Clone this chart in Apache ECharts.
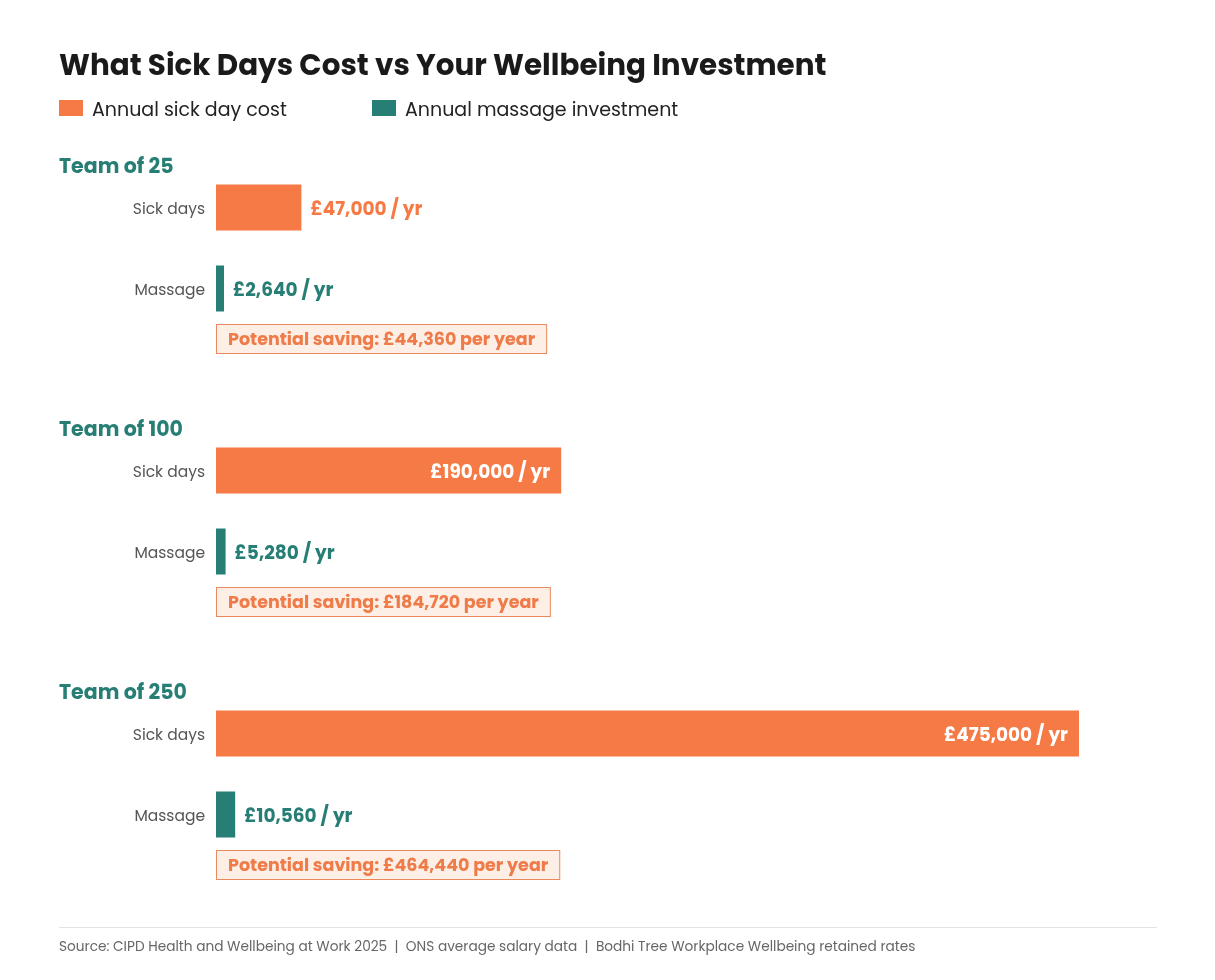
<!DOCTYPE html>
<html><head><meta charset="utf-8">
<script src="https://cdn.jsdelivr.net/npm/echarts@6/dist/echarts.min.js"></script>
<style>html,body{margin:0;padding:0;background:#fff}#c{width:1215px;height:980px}</style>
</head><body><div id="c"></div>
<script>
const teams = ['Team of 25', 'Team of 100', 'Team of 250'];
const rowLabels = ['Sick days', 'Massage'];
const sickCost = [47000, 190000, 475000];
const massageCost = [2640, 5280, 10560];
const seriesNames = ['Annual sick day cost', 'Annual massage investment'];
const sourceText = 'Source: CIPD Health and Wellbeing at Work 2025  |  ONS average salary data  |  Bodhi Tree Workplace Wellbeing retained rates';

const FONT = 'Poppins, "Open Sans", sans-serif';
const ORANGE = '#F67A45';
const TEAL = '#277E75';
const fmt = v => '£' + v.toLocaleString('en-GB');

const chart = echarts.init(document.getElementById('c'));
const grids = [], xAxes = [], yAxes = [], series = [], graphics = [];
const panelStep = 263;
teams.forEach((t, i) => {
  const top = 167 + i * panelStep;
  grids.push({left: 216, width: 863, top: top, height: 162, containLabel: false});
  xAxes.push({type: 'value', gridIndex: i, min: 0, max: 475000, show: false});
  yAxes.push({type: 'category', gridIndex: i, data: rowLabels, inverse: true,
    axisLine: {show: false}, axisTick: {show: false}, splitLine: {show: false},
    axisLabel: {margin: 11, formatter: v => '{a|' + v + '}',
      rich: {a: {color: '#555', fontFamily: FONT, fontSize: 15.5, padding: [5, 0, 0, 0]}}}});
  const inside = sickCost[i] > 100000;
  series.push({type: 'bar', name: seriesNames[0], xAxisIndex: i, yAxisIndex: i,
    data: [sickCost[i], '-'], barWidth: 46, barGap: '-100%',
    itemStyle: {color: ORANGE},
    label: {show: true, position: inside ? 'insideRight' : 'right', distance: inside ? 11 : 9,
      offset: [0, 3],
      formatter: p => fmt(p.value) + ' / yr', color: inside ? '#fff' : ORANGE,
      fontFamily: FONT, fontWeight: 'bold', fontSize: 18.5}});
  series.push({type: 'bar', name: seriesNames[1], xAxisIndex: i, yAxisIndex: i,
    data: ['-', massageCost[i]], barWidth: 46, barGap: '-100%', barMinHeight: 8,
    itemStyle: {color: TEAL},
    label: {show: true, position: 'right', distance: 9, offset: [0, 3],
      formatter: p => fmt(p.value) + ' / yr', color: TEAL,
      fontFamily: FONT, fontWeight: 'bold', fontSize: 18.5}});
  graphics.push({type: 'text', left: 59, top: 166 + i * panelStep - 9,
    style: {text: t, fill: TEAL, font: 'bold 20.5px ' + FONT}});
  graphics.push({type: 'text', left: 216, top: 324 + i * panelStep,
    style: {text: 'Potential saving: ' + fmt(sickCost[i] - massageCost[i]) + ' per year',
      fill: '#EE7B48', font: 'bold 17.5px ' + FONT,
      backgroundColor: '#FDEEE6', borderColor: '#E98A5E', borderWidth: 1,
      padding: [7, 11, 3, 11]}});
});
graphics.push({type: 'line', shape: {x1: 59, y1: 927.5, x2: 1157, y2: 927.5},
  style: {stroke: '#E3E3E3', lineWidth: 1}});
graphics.push({type: 'text', left: 59, top: 941,
  style: {text: sourceText, fill: '#666', font: '13.7px ' + FONT}});

const legendCommon = {top: 100, padding: 0, itemWidth: 24, itemHeight: 16, icon: 'rect',
  formatter: n => '{a|' + n + '}',
  textStyle: {rich: {a: {fontFamily: FONT, fontSize: 19, color: '#222', padding: [7, 0, 0, 4]}}}};

chart.setOption({
  backgroundColor: '#fff',
  animation: false,
  title: {text: 'What Sick Days Cost vs Your Wellbeing Investment', left: 59, top: 53, padding: 0,
    textStyle: {fontFamily: FONT, fontWeight: 'bold', fontSize: 29.4, color: '#1a1a1a'}},
  legend: [
    Object.assign({left: 59, data: [seriesNames[0]]}, legendCommon),
    Object.assign({left: 372, data: [seriesNames[1]]}, legendCommon)
  ],
  grid: grids, xAxis: xAxes, yAxis: yAxes, series: series, graphic: graphics
});
</script></body></html>
